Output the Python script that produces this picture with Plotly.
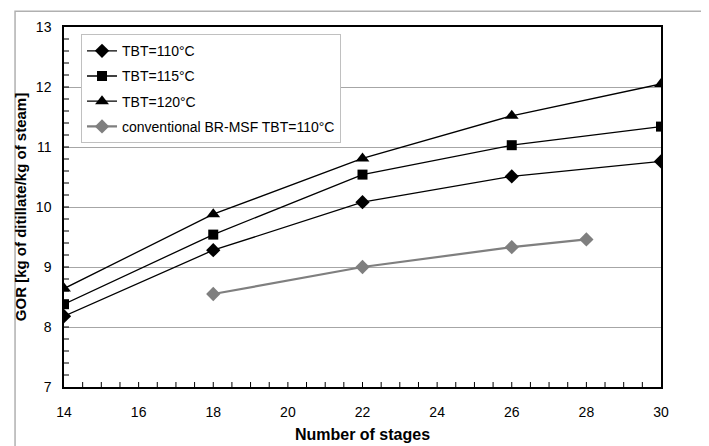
import plotly.graph_objects as go

stages = [14, 18, 22, 26, 30]
gor_110 = [8.18, 9.28, 10.08, 10.51, 10.76]
gor_115 = [8.38, 9.54, 10.54, 11.03, 11.34]
gor_120 = [8.64, 9.88, 10.81, 11.52, 12.05]
conv_stages = [18, 22, 26, 28]
gor_conv = [8.55, 9.0, 9.33, 9.46]

fig = go.Figure()
series = [
    ("TBT=110°C", stages, gor_110, "diamond", 11, "black", 1.3),
    ("TBT=115°C", stages, gor_115, "square", 10, "black", 1.3),
    ("TBT=120°C", stages, gor_120, "triangle-up", 12, "black", 1.3),
    ("conventional BR-MSF TBT=110°C", conv_stages, gor_conv, "diamond", 11, "#7f7f7f", 2.2),
]
for i, (name, xs, ys, sym, sz, col, lw) in enumerate(series):
    fig.add_trace(go.Scatter(
        x=xs, y=ys, name=name, mode="lines+markers",
        line=dict(color=col, width=lw),
        marker=dict(symbol=sym, size=sz, color=col),
        legendgroup=str(i),
    ))

# inside tick marks (minor + major) drawn along the left and bottom axes
x_min, x_max, x_step = 14, 30, 0.5
y_min, y_max, y_step = 7, 13, 0.2
shapes = [dict(type="rect", xref="paper", yref="paper",
               x0=-0.082, x1=1.3, y0=-0.4, y1=1.044,
               line=dict(color="#b0b0b0", width=1.5), layer="below")]
n = int(round((x_max - x_min) / x_step))
for k in range(1, n):
    xv = x_min + k * x_step
    shapes.append(dict(type="line", xref="x", yref="y domain", x0=xv, x1=xv,
                       y0=0, y1=5 / 360, line=dict(color="black", width=1)))
n = int(round((y_max - y_min) / y_step))
for k in range(1, n):
    yv = y_min + k * y_step
    shapes.append(dict(type="line", xref="x domain", yref="y", x0=0, x1=5 / 597,
                       y0=yv, y1=yv, line=dict(color="black", width=1)))

font = "Liberation Sans, Arial, sans-serif"
fig.update_layout(
    width=701, height=438,
    margin=dict(l=56, r=48, t=19, b=59),
    paper_bgcolor="white", plot_bgcolor="white",
    font=dict(family=font, size=14, color="black"),
    showlegend=True,
    legend=dict(
        x=0.0285, y=0.98, xanchor="left", yanchor="top",
        bgcolor="white", bordercolor="#c0c0c0", borderwidth=1,
        font=dict(family=font, size=14, color="black"),
        tracegroupgap=4, itemwidth=30,
    ),
    xaxis=dict(
        range=[x_min, x_max], dtick=2, tick0=14, automargin=False,
        showgrid=False, zeroline=False,
        showline=True, linecolor="black", linewidth=1.5, mirror=True,
        ticks="", ticklabelstandoff=11,
        title=dict(text="<b>Number of stages</b>", font=dict(size=16), standoff=10),
    ),
    yaxis=dict(
        range=[y_min, y_max], dtick=1, automargin=False,
        showgrid=True, gridcolor="#a6a6a6", gridwidth=1, zeroline=False,
        showline=True, linecolor="black", linewidth=1.5, mirror=True,
        ticks="", ticklabelstandoff=8,
        title=dict(text="<b>GOR [kg of ditillate/kg of steam]</b>", font=dict(size=15), standoff=6),
    ),
    shapes=shapes,
)
fig.write_html("out.html")
